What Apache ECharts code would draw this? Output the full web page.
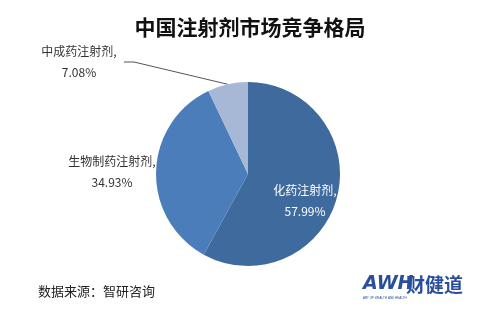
<!DOCTYPE html>
<html><head><meta charset="utf-8">
<script src="https://cdn.jsdelivr.net/npm/echarts@6/dist/echarts.min.js"></script>
<style>html,body{margin:0;padding:0;background:#fff}#c{width:500px;height:314px}</style>
</head><body><div id="c"></div>
<script>
const categories = ['化药注射剂', '生物制药注射剂', '中成药注射剂'];
const values = [57.99, 34.93, 7.08];
const colors = ['#3E6A9E', '#4A7DBA', '#A7B7D6'];
const labelPos = [[305, 201], [112, 172], [79, 62]];

const chart = echarts.init(document.getElementById('c'));
const font = '"Noto Sans CJK SC", sans-serif';
chart.setOption({
  backgroundColor: '#ffffff',
  animation: false,
  title: {
    text: '中国注射剂市场竞争格局',
    left: 'center', top: 12,
    textStyle: { fontFamily: font, fontSize: 21, fontWeight: 'bold', color: '#111' }
  },
  graphic: [
    { type: 'text', left: 38, top: 285, style: { text: '数据来源：智研咨询', font: '13px "Noto Sans CJK SC"', fill: '#222' } },
    { type: 'text', left: 363, top: 275, style: { text: 'AWH', font: 'italic bold 19px "DejaVu Sans"', fill: '#2A4E9E' } },
    { type: 'text', left: 406, top: 275, style: { text: '财健道', font: 'bold 19px "Noto Sans CJK SC"', fill: '#2A4E9E' } },
    { type: 'text', left: 363, top: 297, style: { text: 'ART OF WEALTH AND HEALTH', font: '3px sans-serif', fill: '#2A4E9E' } }
  ],
  series: [{
    type: 'pie',
    center: [248, 174],
    radius: [0, 92],
    startAngle: 90,
    clockwise: true,
    data: categories.map((n, i) => ({
      name: n, value: values[i],
      itemStyle: { color: colors[i] },
      label: i === 0 ? { position: 'inside', rich: { a: { color: '#fff' } } } : { position: 'outside', rich: { a: { color: '#333' } } },
      labelLine: { show: i === 2, lineStyle: { color: '#555', width: 1 }, length: 10, length2: 10 }
    })),
    label: {
      formatter: p => '{a|' + p.name + ',}\n{a|' + p.value.toFixed(2) + '%}',
      rich: { a: { fontFamily: font, fontSize: 12, lineHeight: 21, width: 90, align: 'center' } }
    },
    labelLayout: function (p) {
      const pos = labelPos[p.dataIndex];
      return { x: pos[0], y: pos[1], align: 'center', verticalAlign: 'middle' };
    },
    itemStyle: { borderColor: '#fff', borderWidth: 0 }
  }]
});
</script></body></html>
